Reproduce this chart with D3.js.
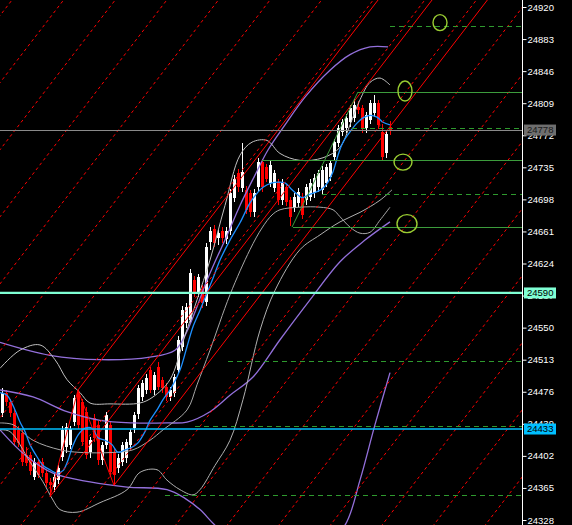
<!DOCTYPE html>
<html><head><meta charset="utf-8">
<script src="https://cdn.jsdelivr.net/npm/d3@7"></script>
<style>html,body{margin:0;padding:0;background:#000;overflow:hidden}svg{display:block}</style>
</head><body><svg id="c" width="572" height="525"></svg>
<script>
// ---------- DATA ----------
const opens = [24452,24475,24464,24452,24432,24428,24403,24403,24378,24395,
24395,24382,24372,24366,24374,24401,24412,24414,24441,24476,
24464,24453,24406,24446,24438,24397,24414,24438,24406,24388,
24395,24399,24414,24434,24450,24470,24478,24501,24478,24505,
24489,24482,24470,24475,24501,24528,24555,24559,24605,24590,
24594,24580,24649,24664,24653,24662,24652,24662,24700,24728,
24711,24709,24705,24683,24712,24741,24735,24717,24711,24718,
24697,24712,24697,24688,24694,24701,24697,24701,24705,24712,
24709,24717,24724,24747,24763,24776,24780,24787,24792,24805,
24803,24780,24790,24798,24809,24776,24751,24782];
const highs = [24480,24478,24468,24456,24436,24433,24412,24407,24399,24398,
24399,24386,24376,24382,24392,24436,24440,24437,24472,24478,
24468,24458,24424,24450,24442,24418,24453,24442,24410,24404,
24418,24422,24433,24453,24484,24490,24496,24505,24499,24510,
24493,24486,24482,24497,24540,24575,24578,24618,24610,24612,
24599,24648,24666,24668,24663,24666,24666,24710,24726,24733,
24763,24714,24709,24710,24746,24745,24739,24742,24732,24722,
24721,24716,24701,24705,24711,24705,24716,24721,24727,24732,
24736,24739,24744,24768,24784,24791,24796,24807,24814,24812,
24807,24799,24813,24818,24813,24785,24778,24788];
const lows = [24447,24460,24447,24414,24412,24390,24390,24380,24374,24376,
24378,24366,24355,24360,24370,24396,24405,24410,24436,24433,
24413,24398,24400,24418,24392,24392,24410,24378,24368,24382,
24390,24394,24409,24428,24445,24465,24473,24474,24472,24478,
24475,24465,24465,24470,24496,24523,24550,24554,24585,24585,
24573,24575,24640,24643,24645,24648,24647,24657,24695,24707,
24706,24681,24678,24678,24707,24707,24718,24712,24706,24692,
24692,24690,24667,24683,24689,24675,24692,24696,24700,24707,
24704,24712,24719,24742,24758,24771,24775,24782,24787,24797,
24775,24775,24785,24793,24779,24742,24746,24772];
const closes = [24475,24464,24452,24418,24417,24395,24394,24384,24395,24380,
24382,24371,24368,24378,24388,24432,24435,24433,24469,24438,
24418,24403,24420,24423,24397,24414,24449,24383,24380,24400,
24414,24418,24429,24449,24480,24486,24492,24478,24495,24482,
24480,24470,24478,24493,24536,24570,24574,24613,24590,24608,
24578,24643,24661,24648,24659,24653,24662,24705,24722,24712,
24730,24686,24683,24705,24741,24712,24722,24738,24728,24697,
24717,24695,24678,24701,24707,24680,24712,24717,24723,24728,
24732,24735,24740,24764,24780,24787,24792,24803,24807,24801,
24780,24795,24809,24809,24784,24747,24774,24778];

const tickLabels = [24920,24883,24846,24809,24772,24735,24698,24661,24624,24587,24550,24513,24476,24439,24402,24365,24328];

// indicator lines: [bar, price]
const maBlue = [[-0.5,24475],[1.25,24472],[3.25,24455],[4.5,24441],[5.75,24430],[7,24415],[8.75,24401],[10.25,24391],[12,24386],[13.75,24382],[15.25,24385],[16.5,24397],[17.5,24411],[19,24426],[20.75,24434],[22.5,24434],[24,24423],[25.75,24420],[27.5,24415],[29,24406],[30.75,24409],[32.5,24412],[34,24417],[35.75,24430],[37,24443],[38.75,24455],[40.25,24467],[42,24478],[44.5,24501],[46.25,24528],[47.75,24551],[49.5,24570],[51.25,24590],[52.75,24607],[54.5,24628],[57,24651],[59.5,24671],[62,24694],[63.75,24705],[65.25,24712],[67.5,24717],[69,24718],[70.75,24717],[72.5,24709],[74,24703],[75,24700],[76.5,24703],[78.25,24706],[80,24710],[81.5,24718],[82.75,24730],[84,24749],[85.25,24764],[87,24776],[88.75,24786],[90.25,24792],[92,24795],[93.75,24793],[95.25,24787],[97,24784]];
const grayUpper = [[-0.5,24503],[4.5,24524],[9.5,24530],[13.25,24513],[16.25,24490],[19.5,24475],[22,24463],[27,24462],[34.5,24463],[37.75,24470],[42,24490],[45.75,24541],[48.75,24582],[52,24628],[55.75,24691],[59.5,24749],[62.5,24764],[66.25,24766],[69.5,24751],[74.5,24743],[80.25,24746],[84.5,24758],[87,24784],[89.5,24813],[92,24833],[94.5,24838],[97,24830]];
const grayMid = [[-0.5,24440],[2.75,24438],[7.75,24420],[14.5,24409],[19.5,24406],[27.75,24406],[32.75,24409],[37,24420],[40.25,24432],[46.25,24455],[48.75,24484],[52,24524],[57,24588],[62,24640],[65,24665],[67.5,24680],[69.5,24686],[74.5,24689],[79.5,24689],[82.75,24686],[84.5,24678],[87,24666],[89.5,24659],[92,24660],[94.5,24674],[97,24689]];
const grayLower = [[-0.5,24432],[2,24430],[7,24395],[10.25,24372],[12.75,24351],[14.5,24340],[18.75,24337],[24.5,24348],[31.25,24363],[34.5,24383],[38.75,24386],[41.25,24374],[44.5,24363],[47.75,24357],[49.5,24363],[53.25,24391],[57,24420],[60.25,24467],[64.5,24547],[68.25,24593],[74.5,24640],[79.5,24657],[84.5,24672],[89.5,24683],[94.5,24697],[97.5,24709]];
const purpleUpper = [[-0.5,24533],[12,24518],[24.5,24513],[37,24516],[43.25,24524],[45.75,24541],[48.25,24568],[50.75,24599],[53.25,24626],[55.75,24651],[59.5,24691],[63.25,24726],[66.5,24755],[70.75,24784],[75.75,24816],[82,24847],[87,24865],[92,24874],[96.5,24874]];
const purpleMid = [[-0.5,24478],[7.75,24470],[16.25,24453],[24.5,24443],[32.75,24440],[41.25,24440],[46.25,24441],[52,24453],[57,24472],[62.75,24493],[69.5,24536],[77,24582],[84.5,24626],[90.75,24651],[97,24672]];
const purpleLower = [[-0.5,24432],[5.75,24403],[12.75,24382],[22,24372],[31.25,24366],[41.25,24363],[45.75,24353],[49.5,24340],[53.25,24322],[59.5,24299],[69.5,24282],[79.5,24293],[85.75,24322],[89.5,24374],[93.25,24438],[97,24498]];

// objects
const priceNow = 24778;
const levelAqua = 24590;
const levelBlue = 24433;
const gannBarsAt24920 = [1.15,14.05,26.95,39.85,52.75,65.65,78.55,91.45,104.35,117.25,130.15,143.05,155.95,168.85,181.75,194.65,207.55,220.45];
const gannSlope = 6; // price points per bar
const zigzag = [[12,24355],[19,24478],[28,24368]];
const greenSolid = [[65,24743],[89,24822],[72.75,24666]];       // [start bar, price]
const greenDashed = [[80,24704],[87.5,24780],[97,24898],[56.5,24511],[48.25,24436],[40.75,24357]];
const greenDiag = [[72.5,24666],[89,24822]];
const circles = [[109.5,24902,7,8],[100.75,24823,7,10],[100.25,24741,9,8],[101.25,24670,10,9]];

// ---------- DRAW ----------
const W = 572, H = 525, PR = 522;
const svg = d3.select("#c");
svg.append("rect").attr("width",W).attr("height",H).attr("fill","#000");
const x = d3.scaleLinear().domain([0,1]).range([2,6]);
const y = d3.scaleLinear().domain([24328,24920]).range([520,7]);

svg.append("defs").append("clipPath").attr("id","pc").append("rect")
  .attr("x",0).attr("y",0).attr("width",PR).attr("height",H);
const g = svg.append("g").attr("clip-path","url(#pc)");

// candles
const bars = opens.map((o,i)=>({i,o,h:highs[i],l:lows[i],c:closes[i]}));
const cg = g.append("g").attr("shape-rendering","crispEdges");
cg.selectAll("line").data(bars).join("line")
  .attr("x1",d=>Math.round(x(d.i))+0.5).attr("x2",d=>Math.round(x(d.i))+0.5)
  .attr("y1",d=>y(d.h)).attr("y2",d=>y(d.l))
  .attr("stroke",d=>d.c>=d.o?"#fff":"#ff0000");
cg.selectAll("rect").data(bars).join("rect")
  .attr("x",d=>Math.round(x(d.i))-1).attr("width",3)
  .attr("y",d=>y(Math.max(d.o,d.c)))
  .attr("height",d=>Math.max(1,Math.abs(y(d.o)-y(d.c))))
  .attr("fill",d=>d.c>=d.o?"#fff":"#ff0000");

// indicators
const lg = d3.line().x(d=>x(d[0])).y(d=>y(d[1])).curve(d3.curveCatmullRom.alpha(0.5));
[[purpleUpper,"#9370DB",1.3],[purpleMid,"#9370DB",1.3],[purpleLower,"#9370DB",1.3],
 [grayUpper,"#c0c0c0",1],[grayMid,"#a8a8a8",1],[grayLower,"#b0b0b0",1],
 [maBlue,"#1E90FF",1.3]].forEach(([d,c,w])=>{
  g.append("path").datum(d).attr("d",lg).attr("fill","none").attr("stroke",c).attr("stroke-width",w);
});

// red gann dashed lines
const lin = d3.line().x(d=>x(d[0])).y(d=>y(d[1]));
gannBarsAt24920.forEach(b=>{
  const a=[b-110,24920-110*gannSlope], e=[b+10,24920+10*gannSlope];
  g.append("path").datum([a,e]).attr("d",lin).attr("stroke","#ff0000").attr("stroke-width",1)
   .attr("stroke-dasharray","3,3").attr("fill","none");
});
// solid rays from zigzag points
zigzag.forEach(p=>{
  g.append("path").datum([p,[p[0]+120,p[1]+120*gannSlope]]).attr("d",lin)
   .attr("stroke","#ff0000").attr("stroke-width",1).attr("fill","none");
});
g.append("path").datum(zigzag).attr("d",lin).attr("stroke","#ff0000").attr("stroke-width",1).attr("fill","none");

// green objects
greenSolid.forEach(p=>{
  g.append("line").attr("x1",x(p[0])).attr("x2",PR).attr("y1",Math.round(y(p[1]))+0.5).attr("y2",Math.round(y(p[1]))+0.5)
   .attr("stroke","#3c9c3c").attr("stroke-width",1);
});
greenDashed.forEach(p=>{
  g.append("line").attr("x1",x(p[0])).attr("x2",PR).attr("y1",Math.round(y(p[1]))+0.5).attr("y2",Math.round(y(p[1]))+0.5)
   .attr("stroke","#2e9a2e").attr("stroke-width",1).attr("stroke-dasharray","5,4");
});
g.append("path").datum(greenDiag).attr("d",lin).attr("stroke","#3c9c3c").attr("stroke-width",1).attr("fill","none");

// full width levels
g.append("line").attr("x1",0).attr("x2",PR).attr("y1",Math.round(y(priceNow))+0.5).attr("y2",Math.round(y(priceNow))+0.5)
  .attr("stroke","#8a8a8a").attr("stroke-width",1);
g.append("line").attr("x1",0).attr("x2",PR).attr("y1",y(levelAqua)).attr("y2",y(levelAqua))
  .attr("stroke","#7fffd4").attr("stroke-width",2.2);
g.append("line").attr("x1",0).attr("x2",PR).attr("y1",y(levelBlue)).attr("y2",y(levelBlue))
  .attr("stroke","#00bfff").attr("stroke-width",1.6);

// circles
circles.forEach(c=>{
  g.append("ellipse").attr("cx",x(c[0])).attr("cy",y(c[1])).attr("rx",c[2]).attr("ry",c[3])
   .attr("fill","none").attr("stroke","#9acd32").attr("stroke-width",1.4);
});

// axis
svg.append("line").attr("x1",PR+0.5).attr("x2",PR+0.5).attr("y1",0).attr("y2",H).attr("stroke","#fff");
const ax = svg.append("g").attr("transform",`translate(${PR+0.5},0)`)
  .call(d3.axisRight(y).tickValues(tickLabels).tickSize(4).tickSizeOuter(0).tickPadding(1).tickFormat(d3.format("d")));
ax.select(".domain").remove();
ax.selectAll("line").attr("stroke","#fff");
ax.selectAll("text").attr("fill","#fff").attr("font-family","'Liberation Sans',Arial,sans-serif").attr("font-size","9.5px");

// level labels
[[priceNow,"#6e6e6e","#1a1a1a"],[levelAqua,"#7fffd4","#000"],[levelBlue,"#00bfff","#000"]].forEach(([v,bg,fg])=>{
  const yy=y(v);
  svg.append("rect").attr("x",PR+2).attr("y",yy-5.5).attr("width",32).attr("height",11).attr("fill",bg);
  svg.append("text").attr("x",PR+5).attr("y",yy).attr("dy","0.34em").attr("fill",fg)
   .attr("font-family","'Liberation Sans',Arial,sans-serif").attr("font-size","9.5px").text(d3.format("d")(v));
});
</script></body></html>
